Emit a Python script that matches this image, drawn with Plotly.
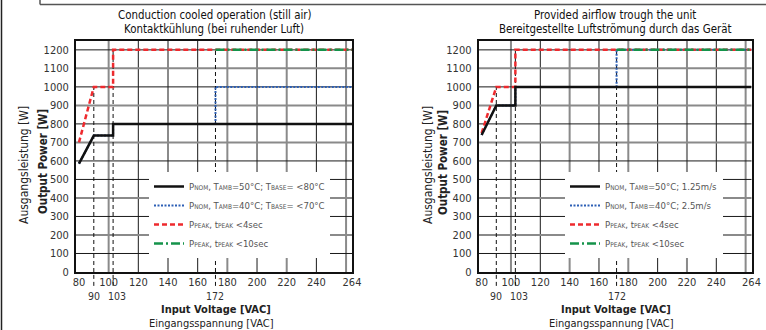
import plotly.graph_objects as go

# ---------------- data ----------------
volt_ticks = [80, 100, 120, 140, 160, 180, 200, 220, 240, 264]
volt_marks = [90, 103, 172]
power_ticks = [0, 100, 200, 300, 400, 500, 600, 700, 800, 900, 1000, 1100, 1200]

# left panel: conduction cooled
L_nom50_x = [80, 90, 103, 103, 264]
L_nom50_y = [585, 737, 737, 800, 800]
L_nom40_x = [80, 90, 103, 103, 172, 172, 264]
L_nom40_y = [585, 737, 737, 800, 800, 1000, 1000]
L_peak4_x = [80, 90, 103, 103, 264]
L_peak4_y = [700, 1000, 1000, 1200, 1200]
L_peak10_x = [172, 264]
L_peak10_y = [1200, 1200]
L_marks_top = [1000, 1200, 1200]

# right panel: forced airflow
R_nom50_x = [80, 90, 103, 103, 264]
R_nom50_y = [740, 900, 900, 1000, 1000]
R_nom40_x = [80, 90, 103, 103, 172, 172, 264]
R_nom40_y = [740, 900, 900, 1000, 1000, 1200, 1200]
R_peak4_x = [80, 90, 103, 103, 264]
R_peak4_y = [750, 1000, 1000, 1200, 1200]
R_peak10_x = [172, 264]
R_peak10_y = [1200, 1200]
R_marks_top = [1000, 1200, 1200]

grid_x_black = [120, 160, 200, 240]
grid_x_gray = [100, 140, 180, 220, 260]
grid_y_black = [100, 300, 500, 600, 800, 1000, 1200]
grid_y_gray = [200, 400, 700, 900, 1100]

FONT = "DejaVu Sans Condensed, Liberation Sans Narrow, Arial Narrow, sans-serif"
SM = '<span style="font-size:6.5px">%s</span>'

L_names = [
    "P" + SM % "NOM" + ", T" + SM % "AMB" + "=50°C; T" + SM % "BASE" + "= &lt;80°C",
    "P" + SM % "NOM" + ", T" + SM % "AMB" + "=40°C; T" + SM % "BASE" + "= &lt;70°C",
    "P" + SM % "PEAK" + ", t" + SM % "PEAK" + " &lt;4sec",
    "P" + SM % "PEAK" + ", t" + SM % "PEAK" + " &lt;10sec",
]
R_names = [
    "P" + SM % "NOM" + ", T" + SM % "AMB" + "=50°C; 1.25m/s",
    "P" + SM % "NOM" + ", T" + SM % "AMB" + "=40°C; 2.5m/s",
    "P" + SM % "PEAK" + ", t" + SM % "PEAK" + " &lt;4sec",
    "P" + SM % "PEAK" + ", t" + SM % "PEAK" + " &lt;10sec",
]

titles = [
    ["Conduction cooled operation (still air)", "Kontaktkühlung (bei ruhender Luft)"],
    ["Provided airflow trough the unit", "Bereitgestellte Luftströmung durch das Gerät"],
]

BLACK = "#111111"
BLUE = "#2c5fb5"
RED = "#ee2a2e"
GREEN = "#14934a"

fig = go.Figure()

panels = [
    dict(xa="x", ya="y", leg="legend", names=L_names,
         series=[(L_nom40_x, L_nom40_y), (L_peak4_x, L_peak4_y), (L_peak10_x, L_peak10_y), (L_nom50_x, L_nom50_y)],
         tops=L_marks_top),
    dict(xa="x2", ya="y2", leg="legend2", names=R_names,
         series=[(R_nom40_x, R_nom40_y), (R_peak4_x, R_peak4_y), (R_peak10_x, R_peak10_y), (R_nom50_x, R_nom50_y)],
         tops=R_marks_top),
]

styles = [  # drawing order: blue, red, green, black ; legendrank gives legend order
    dict(color=BLUE, width=2, dash="2px,1.5px", rank=2, name_idx=1),
    dict(color=RED, width=2.5, dash="5px,3px", rank=3, name_idx=2),
    dict(color=GREEN, width=2.5, dash="9px,3px,2px,3px", rank=4, name_idx=3),
    dict(color=BLACK, width=2.5, dash="solid", rank=1, name_idx=0),
]

for p in panels:
    for (xs, ys), st in zip(p["series"], styles):
        fig.add_trace(go.Scatter(
            x=xs, y=ys, mode="lines", xaxis=p["xa"], yaxis=p["ya"],
            line=dict(color=st["color"], width=st["width"], dash=st["dash"]),
            name=p["names"][st["name_idx"]], legend=p["leg"], legendrank=st["rank"],
            hoverinfo="skip",
        ))

shapes = []
annotations = []

mark_xshift = {90: 0, 103: 4, 172: 0}

for i, p in enumerate(panels):
    xa, ya = p["xa"], p["ya"]
    for v in grid_x_gray:
        shapes.append(dict(type="line", xref=xa, yref=ya + " domain", x0=v, x1=v, y0=0, y1=1,
                           line=dict(color="#8a8a8a", width=2), layer="below"))
    for v in grid_x_black:
        shapes.append(dict(type="line", xref=xa, yref=ya + " domain", x0=v, x1=v, y0=0, y1=1,
                           line=dict(color="#1a1a1a", width=1), layer="below"))
    for v in grid_y_gray:
        shapes.append(dict(type="line", xref=xa + " domain", yref=ya, x0=0, x1=1, y0=v, y1=v,
                           line=dict(color="#8a8a8a", width=2), layer="below"))
    for v in grid_y_black:
        shapes.append(dict(type="line", xref=xa + " domain", yref=ya, x0=0, x1=1, y0=v, y1=v,
                           line=dict(color="#1a1a1a", width=1), layer="below"))
    for v, top in zip(volt_marks, p["tops"]):
        shapes.append(dict(type="line", xref=xa, yref=ya, x0=v, x1=v, y0=0, y1=top,
                           line=dict(color="#111", width=1, dash="4px,3px"), layer="below"))
        shapes.append(dict(type="line", xref=xa, yref=ya + " domain", x0=v, x1=v, y0=-0.06, y1=0,
                           line=dict(color="#111", width=1, dash="4px,3px")))
        annotations.append(dict(text=str(v), xref=xa, yref=ya + " domain", x=v, y=0,
                                xanchor="center", yanchor="middle", yshift=-24,
                                xshift=mark_xshift[v], showarrow=False,
                                borderpad=0, font=dict(size=10.5, color="#333")))

W, H = 766, 330
def ann(text, px, py, size, angle=0, color="#222"):
    annotations.append(dict(text=text, xref="paper", yref="paper", x=px / W, y=1 - py / H,
                            xanchor="center", yanchor="middle", textangle=angle, borderpad=0,
                            showarrow=False, font=dict(size=size, color=color)))

for c, t in zip([214, 615], titles):
    ann(t[0], c, 15, 11.4, color="#111")
    ann(t[1], c, 29, 11.4, color="#111")
for c in [216, 616]:
    ann("<b>Input Voltage [VAC]</b>", c, 309, 11)
    ann("Eingangsspannung [VAC]", c - 5, 323.5, 11)
for xa_, xb_ in [(24, 43), (428, 443)]:
    ann("Ausgangsleistung [W]", xa_, 165, 12, -90)
    ann("<b>Output Power [W]</b>", xb_, 162, 11.5, -90)

# page decoration frame
shapes.append(dict(type="line", xref="paper", yref="paper", x0=1.5 / W, x1=1.5 / W, y0=0, y1=1,
                   line=dict(color="#222", width=1.5)))
shapes.append(dict(type="line", xref="paper", yref="paper", x0=40 / W, x1=1, y0=1 - 4.5 / H,
                   y1=1 - 4.5 / H, line=dict(color="#555", width=1.5)))
shapes.append(dict(type="line", xref="paper", yref="paper", x0=40 / W, x1=40 / W, y0=1,
                   y1=1 - 4.5 / H, line=dict(color="#555", width=1.5)))

ydom = [1 - 272 / H, 1 - 40.6 / H]
xcommon = dict(range=[78, 264], tickvals=volt_ticks, ticktext=[str(v) for v in volt_ticks],
               showgrid=False, zeroline=False, showline=True, mirror=True, linecolor="#111",
               linewidth=2, ticks="", tickfont=dict(size=11, color="#333"), fixedrange=True,
               automargin=False, ticklabelstandoff=-1)
ycommon = dict(range=[0, 1250], tickvals=power_ticks, showgrid=False, zeroline=False,
               showline=True, mirror=True, linecolor="#111", linewidth=2, ticks="",
               tickfont=dict(size=11, color="#333"), fixedrange=True, ticklabelstandoff=3,
               automargin=False)

legcommon = dict(bgcolor="white", borderwidth=0, font=dict(size=9.5, color="#555", family=FONT),
                 yanchor="middle", xanchor="left", tracegroupgap=0, itemwidth=30)

fig.update_layout(
    template="none",
    width=W, height=H,
    margin=dict(l=0, r=0, t=0, b=0, autoexpand=False),
    paper_bgcolor="white", plot_bgcolor="white",
    font=dict(family=FONT, size=12, color="#222"),
    xaxis=dict(domain=[76 / W, 352 / W], anchor="y", **xcommon),
    yaxis=dict(domain=ydom, anchor="x", **ycommon),
    xaxis2=dict(domain=[478.7 / W, 751.5 / W], anchor="y2", **xcommon),
    yaxis2=dict(domain=ydom, anchor="x2", **ycommon),
    legend=dict(x=149 / W, y=1 - 215 / H, **legcommon),
    legend2=dict(x=565 / W, y=1 - 215 / H, **legcommon),
    shapes=shapes,
    annotations=annotations,
    showlegend=True,
    hovermode=False,
)

fig.write_html(
    "out.html",
    config={"displayModeBar": False, "staticPlot": True},
    post_script="document.body.style.margin='0';document.body.style.padding='0';",
)
